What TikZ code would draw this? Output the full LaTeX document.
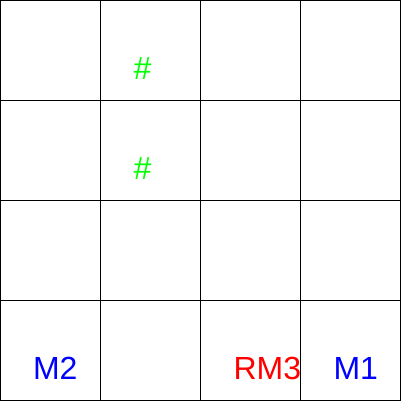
\documentclass[tikz,border=0pt]{standalone}
\usepackage{fontspec}
\setmainfont{Liberation Sans}
\definecolor{hashgreen}{RGB}{0,255,0}
\definecolor{mblue}{RGB}{0,0,255}
\definecolor{rmred}{RGB}{255,0,0}
\begin{document}
\begin{tikzpicture}[x=1pt,y=-1pt,
  gridline/.style={draw=black,line width=1pt},
  lbl/.style={anchor=base west,inner sep=0pt,outer sep=0pt,font=\fontsize{32}{32}\selectfont}]
\useasboundingbox (0,0) rectangle (402,402);
\fill[white] (0,0) rectangle (402,402);
\foreach \i in {0,1,2,3,4}{
  \draw[gridline] (0.5+100*\i,0) -- (0.5+100*\i,401);
  \draw[gridline] (0,0.5+100*\i) -- (401,0.5+100*\i);
}
\node[lbl,text=hashgreen] (h1) at (133.5,79.5) {\#};
\node[lbl,text=hashgreen] (h2) at (133.5,179.5) {\#};
\node[lbl,text=mblue] (m2) at (33,379.5) {M2};
\node[lbl,text=rmred] (rm3) at (233.5,379.5) {RM3};
\node[lbl,text=mblue] (m1) at (333.5,379.5) {M1};
\end{tikzpicture}
\end{document}
